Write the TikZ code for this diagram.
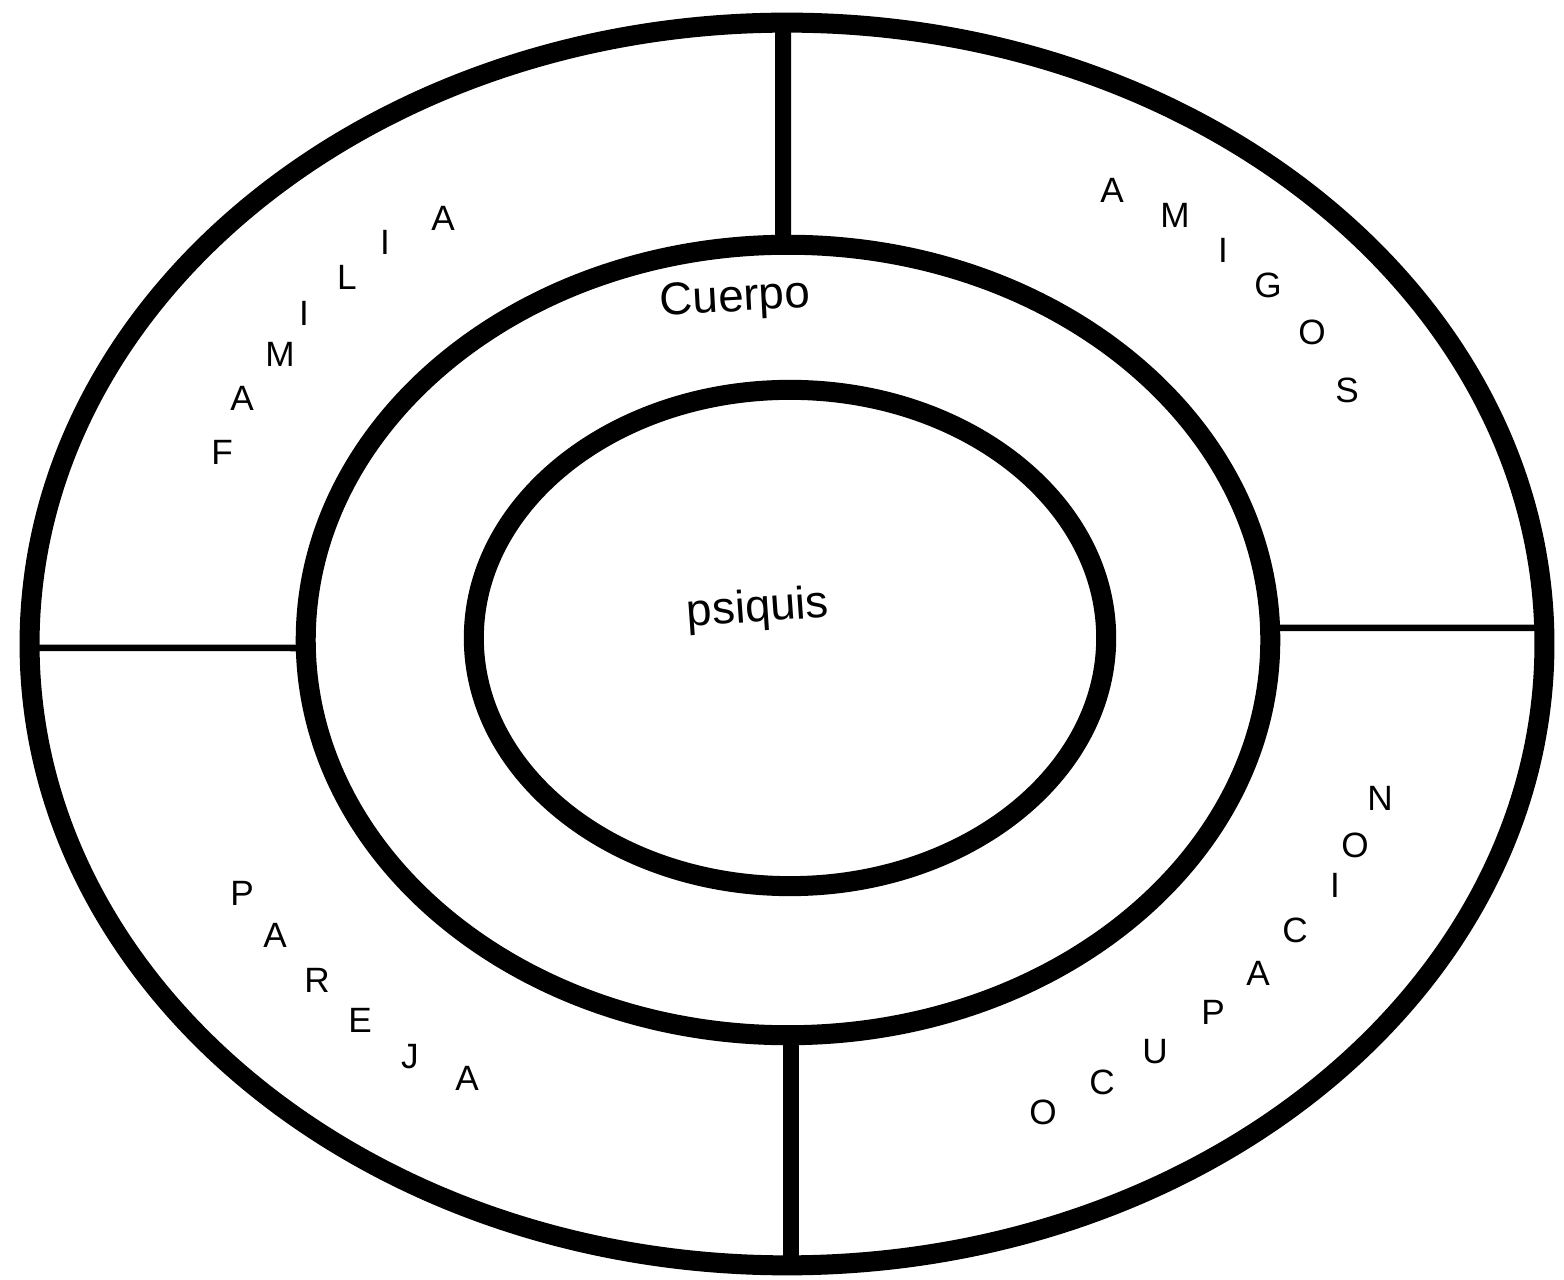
\documentclass[tikz,border=0pt]{standalone}
\usepackage{fontspec}
\setmainfont{Liberation Sans}
\usetikzlibrary{shapes.geometric}

\begin{document}
\begin{tikzpicture}[x=0.01cm, y=-0.01cm,
    ring/.style={ellipse, draw, line width=0.2cm, inner sep=0pt, outer sep=0pt},
    wall/.style={line width=0.16cm},
    thinwall/.style={line width=0.065cm},
    letter/.style={font=\fontsize{10}{12}\selectfont, inner sep=0pt},
    hand/.style={font=\fontsize{13}{15}\selectfont, inner sep=0pt}
]
\useasboundingbox (0,0) rectangle (1564,1280);

% three rings
\node[ring, minimum width=15.14cm, minimum height=12.42cm] (outer) at (787,644) {};
\node[ring, minimum width=9.64cm, minimum height=7.90cm] (middle) at (788,640) {};
\node[ring, minimum width=6.32cm, minimum height=4.96cm] (inner) at (790,638) {};

% dividers
\draw[wall] ([xshift=-0.04cm]outer.north) -- ([xshift=-0.05cm]middle.north);
\draw[wall] ([xshift=0.03cm]middle.south) -- ([xshift=0.04cm]outer.south);
\draw[thinwall] ([yshift=-0.04cm]outer.west) -- ([yshift=-0.08cm]middle.west);
\draw[thinwall] ([yshift=0.12cm]middle.east) -- ([yshift=0.16cm]outer.east);

% inner labels
\node[hand, rotate=3] (cuerpo) at (735,300) {Cuerpo};
\node[hand, rotate=4] (psiquis) at (758,610) {psiquis};

% FAMILIA
\node[letter] (fam1) at (222,452) {F};
\node[letter] (fam2) at (242,398) {A};
\node[letter] (fam3) at (280,354) {M};
\node[letter] (fam4) at (304,313) {I};
\node[letter] (fam5) at (347,277) {L};
\node[letter] (fam6) at (385,242) {I};
\node[letter] (fam7) at (443,218) {A};

% AMIGOS
\node[letter] (ami1) at (1112,190) {A};
\node[letter] (ami2) at (1175,215) {M};
\node[letter] (ami3) at (1223,250) {I};
\node[letter] (ami4) at (1268,285) {G};
\node[letter] (ami5) at (1312,332) {O};
\node[letter] (ami6) at (1347,390) {S};

% PAREJA
\node[letter] (par1) at (242,893) {P};
\node[letter] (par2) at (275,935) {A};
\node[letter] (par3) at (317,980) {R};
\node[letter] (par4) at (360,1020) {E};
\node[letter] (par5) at (410,1057) {J};
\node[letter] (par6) at (467,1078) {A};

% OCUPACION
\node[letter] (ocu1) at (1043,1112) {O};
\node[letter] (ocu2) at (1102,1082) {C};
\node[letter] (ocu3) at (1155,1052) {U};
\node[letter] (ocu4) at (1213,1012) {P};
\node[letter] (ocu5) at (1258,973) {A};
\node[letter] (ocu6) at (1295,930) {C};
\node[letter] (ocu7) at (1335,885) {I};
\node[letter] (ocu8) at (1355,845) {O};
\node[letter] (ocu9) at (1380,798) {N};
\end{tikzpicture}
\end{document}
